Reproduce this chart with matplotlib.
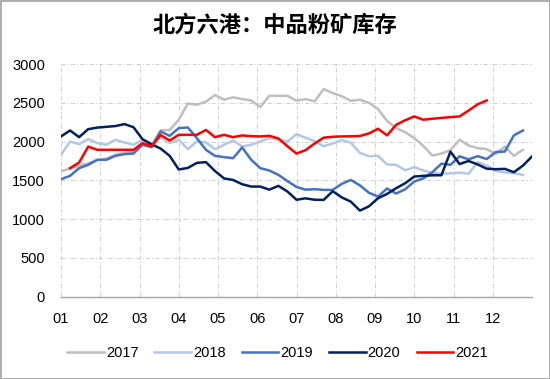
import numpy as np
import matplotlib
matplotlib.use("Agg")
import matplotlib.pyplot as plt
from matplotlib.patches import Rectangle

plt.rcParams['font.family'] = ['Liberation Sans', 'Noto Sans CJK SC', 'DejaVu Sans']

title = "北方六港：中品粉矿库存"
month_labels = ["01", "02", "03", "04", "05", "06", "07", "08", "09", "10", "11", "12"]
years = ["2017", "2018", "2019", "2020", "2021"]

v2017 = [1620, 1650, 1690, 1720, 1760, 1780, 1830, 1855, 1870, 1960,
         1950, 2145, 2150, 2280, 2490, 2475, 2515, 2600, 2540, 2570,
         2548, 2530, 2445, 2590, 2590, 2590, 2527, 2548, 2518, 2677,
         2625, 2585, 2525, 2539, 2500, 2420, 2265, 2175, 2120, 2044,
         1945, 1820, 1845, 1890, 2025, 1950, 1915, 1902, 1842, 1935,
         1816, 1894]
v2018 = [1829, 2001, 1967, 2031, 1980, 1958, 2023, 1989, 1958, 2023,
         1971, 2057, 1980, 2023, 1902, 2001, 1989, 1902, 1958, 2014,
         1937, 1958, 2001, 2044, 2023, 2001, 2095, 2050, 2005, 1940,
         1975, 2020, 1985, 1855, 1810, 1816, 1705, 1700, 1630, 1670,
         1628, 1595, 1585, 1590, 1600, 1585, 1735, 1690, 1620, 1602,
         1592, 1571]
v2019 = [1515, 1558, 1657, 1700, 1765, 1765, 1816, 1838, 1846, 1958,
         1928, 2130, 2074, 2173, 2182, 2044, 1894, 1816, 1799, 1786,
         1924, 1765, 1657, 1627, 1571, 1490, 1415, 1380, 1386, 1377,
         1377, 1455, 1505, 1435, 1340, 1291, 1395, 1330, 1385, 1485,
         1525, 1605, 1715, 1700, 1810, 1770, 1812, 1775, 1865, 1872,
         2080, 2143]
v2020 = [2066, 2143, 2057, 2160, 2180, 2190, 2200, 2225, 2186, 2030,
         1965, 1910, 1815, 1640, 1660, 1725, 1735, 1620, 1525, 1505,
         1450, 1420, 1420, 1380, 1429, 1356, 1250, 1268, 1250, 1248,
         1360, 1280, 1225, 1110, 1165, 1270, 1325, 1399, 1463, 1549,
         1558, 1565, 1566, 1870, 1710, 1750, 1705, 1650, 1644, 1648,
         1605, 1690, 1808]
# 2021 begins in the second week of the year
v2021 = [1657, 1730, 1935, 1894, 1894, 1894, 1894, 1894, 1980, 1940,
         2085, 2014, 2087, 2087, 2087, 2150, 2057, 2087, 2057, 2079,
         2070, 2066, 2074, 2040, 1940, 1845, 1890, 1975, 2050, 2062,
         2066, 2068, 2072, 2105, 2165, 2080, 2216, 2275, 2324, 2282,
         2294, 2305, 2315, 2324, 2400, 2480, 2530]
start_week = [0, 0, 0, 0, 1]

series = [v2017, v2018, v2019, v2020, v2021]
colors = ["#BFBFBF", "#B4C7E7", "#4472C4", "#002060", "#FF0000"]

fig = plt.figure(figsize=(5.5, 3.79), dpi=100)
ax = fig.add_axes([61/550, 1-296.7/379, 471/550, (296.7-64)/379])

wk = 12/52
for vals, sw, c, lab in zip(series, start_week, colors, years):
    x = (np.arange(len(vals)) + sw) * wk
    ax.plot(x, vals, color=c, lw=1.8, label=lab, solid_joinstyle='round')

ax.set_xlim(0, 12)
ax.set_ylim(0, 3000)
ax.set_yticks(np.arange(0, 3001, 500))
ax.set_xticks(np.arange(0, 13))
ax.set_xticklabels(month_labels + [""])
ax.grid(True, color="#D0D0D0", lw=0.75, linestyle=(0, (4, 2, 1, 2)))
ax.set_axisbelow(True)
for s in ["left", "right", "top"]:
    ax.spines[s].set_visible(False)
ax.spines["bottom"].set_color("#A6A6A6")
ax.spines["bottom"].set_linewidth(1.0)
ax.tick_params(axis='y', length=0, pad=11.5, labelsize=10.5, colors="#000000")
ax.tick_params(axis='x', length=0, pad=11, labelsize=10.5, colors="#000000")

leg = fig.legend(loc="center", bbox_to_anchor=(0.5045, (379-353)/379), ncol=5,
                 frameon=False, fontsize=10.5, handlelength=2.5, handletextpad=0.15,
                 columnspacing=1.1)

fig.text(0.5, 1-25/379, title, ha="center", va="center", fontsize=16,
         family=["Noto Sans CJK SC", "DejaVu Sans"], weight="bold")

fig.patches.append(Rectangle((0.5/550, 0.5/379), 1-1/550, 1-1/379, transform=fig.transFigure,
                             fill=False, edgecolor="#A0A0A0", lw=1.2))

fig.savefig("out.png", dpi=100)
